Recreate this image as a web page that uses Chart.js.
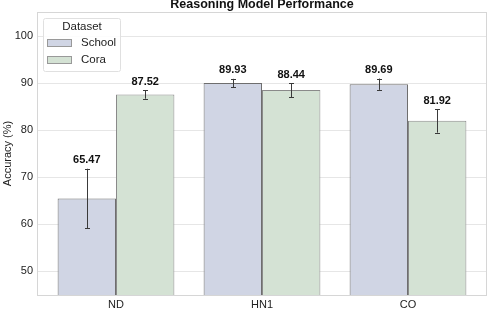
<!DOCTYPE html>
<html>
<head>
<meta charset="utf-8">
<script src="https://cdn.jsdelivr.net/npm/chart.js@4"></script>
<style>
  html, body { margin: 0; padding: 0; background: #fff; }
  #chart { display: block; }
</style>
</head>
<body>
<canvas id="chart" width="488" height="309"></canvas>
<script>
// Chart data
const categories = ['ND', 'HN1', 'CO'];
const schoolValues = [65.47, 89.93, 89.69];
const schoolErrors = [6.3, 0.9, 1.2];
const coraValues = [87.52, 88.44, 81.92];
const coraErrors = [0.9, 1.5, 2.5];
const yTicks = [50, 60, 70, 80, 90, 100];

const FONT = 'Liberation Sans, Arial, sans-serif';
// the axes frame reaches a little past the outer categories
const FRAME_PAD = 6;

// Error bars + value labels drawn from the library's scales
const errorBarPlugin = {
    id: 'errorBars',
    afterDatasetsDraw(chart) {
        const ctx = chart.ctx;
        const yScale = chart.scales.y;
        chart.data.datasets.forEach((ds, i) => {
            const meta = chart.getDatasetMeta(i);
            meta.data.forEach((bar, j) => {
                const v = ds.data[j];
                const err = ds.errors[j];
                const yTop = yScale.getPixelForValue(v + err);
                const yBot = yScale.getPixelForValue(v - err);
                const x = Math.round(bar.x) + 0.5;
                ctx.save();
                ctx.strokeStyle = '#3a3a3a';
                ctx.lineWidth = 1;
                ctx.beginPath();
                ctx.moveTo(x, yTop);
                ctx.lineTo(x, yBot);
                ctx.moveTo(x - 2.5, Math.round(yTop) + 0.5);
                ctx.lineTo(x + 2.5, Math.round(yTop) + 0.5);
                ctx.moveTo(x - 2.5, Math.round(yBot) + 0.5);
                ctx.lineTo(x + 2.5, Math.round(yBot) + 0.5);
                ctx.stroke();
                ctx.fillStyle = '#111';
                ctx.font = 'bold 11px ' + FONT;
                ctx.textAlign = 'center';
                ctx.textBaseline = 'bottom';
                ctx.fillText(v.toFixed(2), bar.x, yTop - 3);
                ctx.restore();
            });
        });
    }
};

// Grid lines across the whole frame
const gridPlugin = {
    id: 'frameGrid',
    beforeDatasetsDraw(chart) {
        const ctx = chart.ctx;
        const a = chart.chartArea;
        const yScale = chart.scales.y;
        ctx.save();
        ctx.strokeStyle = '#e6e6e6';
        ctx.lineWidth = 1;
        ctx.beginPath();
        yTicks.forEach(t => {
            const y = Math.round(yScale.getPixelForValue(t)) + 0.5;
            ctx.moveTo(a.left - FRAME_PAD, y);
            ctx.lineTo(a.right + FRAME_PAD, y);
        });
        ctx.stroke();
        ctx.restore();
    }
};

// Frame, title and legend box
const decorPlugin = {
    id: 'decor',
    afterDraw(chart) {
        const ctx = chart.ctx;
        const a = chart.chartArea;
        const left = Math.round(a.left - FRAME_PAD) + 0.5;
        const right = Math.round(a.right + FRAME_PAD) - 0.5;
        ctx.save();
        ctx.strokeStyle = '#d6d6d6';
        ctx.lineWidth = 1;
        ctx.strokeRect(left, Math.round(a.top) + 0.5, right - left, Math.round(a.bottom - a.top));

        ctx.fillStyle = '#111';
        ctx.font = 'bold 12.5px ' + FONT;
        ctx.textAlign = 'center';
        ctx.textBaseline = 'middle';
        ctx.fillText('Reasoning Model Performance', (left + right) / 2, 5);

        // legend
        const lx = 43.5, ly = 18.5, lw = 77, lh = 53;
        ctx.fillStyle = 'rgba(255,255,255,0.85)';
        ctx.strokeStyle = '#e0e0e0';
        ctx.beginPath();
        ctx.roundRect(lx, ly, lw, lh, 2);
        ctx.fill();
        ctx.stroke();
        ctx.fillStyle = '#222';
        ctx.font = '11.5px ' + FONT;
        ctx.fillText('Dataset', lx + lw / 2, 27);
        chart.data.datasets.forEach((ds, i) => {
            const yy = 43 + i * 17;
            ctx.fillStyle = ds.backgroundColor;
            ctx.strokeStyle = '#999';
            ctx.fillRect(47.5, yy - 3.5, 24, 7);
            ctx.strokeRect(47.5, yy - 3.5, 24, 7);
            ctx.fillStyle = '#222';
            ctx.textAlign = 'left';
            ctx.fillText(ds.label, 81, yy);
        });
        ctx.restore();
    }
};

new Chart(document.getElementById('chart'), {
    type: 'bar',
    data: {
        labels: categories,
        datasets: [
            {
                label: 'School',
                data: schoolValues,
                errors: schoolErrors,
                backgroundColor: '#d0d5e4',
                borderColor: '#6e6e6e',
                borderWidth: 1,
                categoryPercentage: 0.8,
                barPercentage: 1.0
            },
            {
                label: 'Cora',
                data: coraValues,
                errors: coraErrors,
                backgroundColor: '#d4e2d4',
                borderColor: '#8a8a8a',
                borderWidth: 1,
                categoryPercentage: 0.8,
                barPercentage: 1.0
            }
        ]
    },
    options: {
        responsive: false,
        animation: false,
        layout: { padding: { top: 12, right: 1 + FRAME_PAD, left: 0, bottom: 0 } },
        plugins: {
            legend: { display: false },
            title: { display: false },
            tooltip: { enabled: false }
        },
        scales: {
            x: {
                grid: { display: false, drawTicks: false },
                border: { display: false },
                ticks: { color: '#222', font: { family: FONT, size: 11 }, padding: 3 },
                afterFit(scale) { scale.height = 14; }
            },
            y: {
                min: 45,
                max: 105,
                afterBuildTicks(axis) { axis.ticks = yTicks.map(v => ({ value: v })); },
                // invisible tick marks push the labels out past the frame
                grid: {
                    color: 'rgba(0,0,0,0)',
                    drawOnChartArea: false,
                    drawTicks: true,
                    tickLength: FRAME_PAD
                },
                border: { display: false },
                ticks: { color: '#222', font: { family: FONT, size: 11 }, padding: 4 },
                title: {
                    display: true,
                    text: 'Accuracy (%)',
                    color: '#222',
                    font: { family: FONT, size: 11 },
                    padding: { top: 1, bottom: 0 }
                },
                afterFit(scale) { scale.width = 37 + FRAME_PAD; }
            }
        }
    },
    plugins: [gridPlugin, errorBarPlugin, decorPlugin]
});
</script>
</body>
</html>
